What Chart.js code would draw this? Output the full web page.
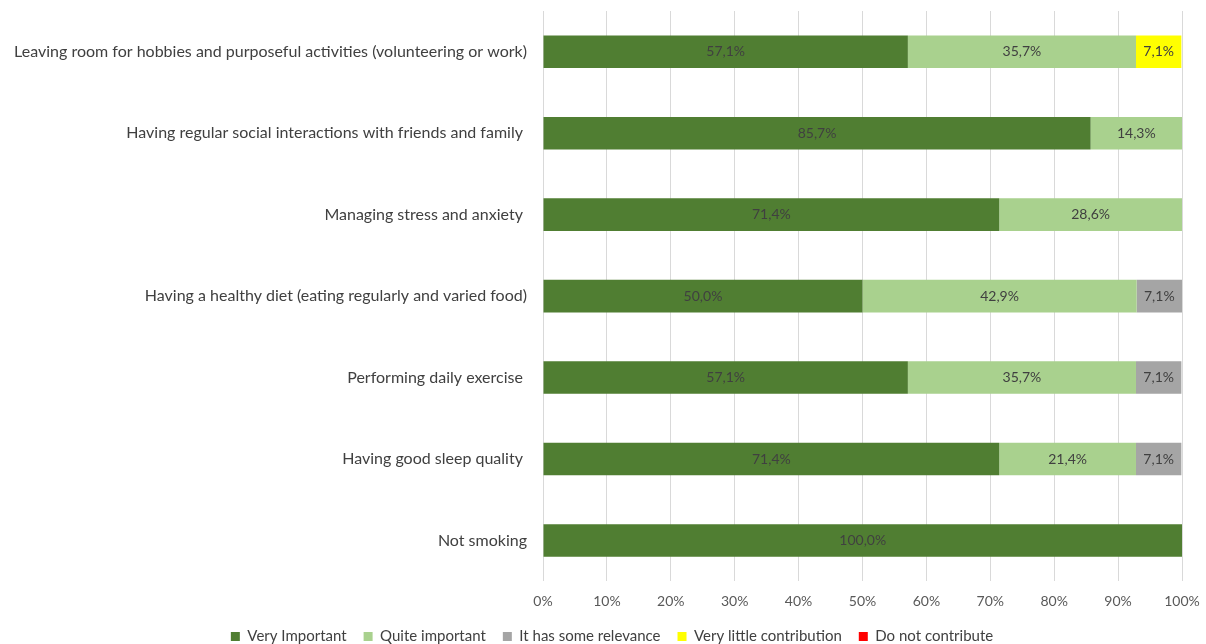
<!DOCTYPE html>
<html>
<head>
<meta charset="utf-8">
<script src="https://cdn.jsdelivr.net/npm/chart.js@4/dist/chart.umd.min.js"></script>
<style>
  html, body { margin: 0; padding: 0; background: #fff; }
  #wrap { width: 1206px; height: 644px; }
</style>
</head>
<body>
<div id="wrap"><canvas id="myChart"></canvas></div>
<script>
var categories = [
    'Leaving room for hobbies and purposeful activities (volunteering or work)',
    'Having regular social interactions with friends and family ',
    'Managing stress and anxiety ',
    'Having a healthy diet (eating regularly and varied food)',
    'Performing daily exercise ',
    'Having good sleep quality ',
    'Not smoking'
];
var veryImportant   = [57.1, 85.7, 71.4, 50.0, 57.1, 71.4, 100.0];
var quiteImportant  = [35.7, 14.3, 28.6, 42.9, 35.7, 21.4, 0];
var someRelevance   = [0, 0, 0, 7.1, 7.1, 7.1, 0];
var veryLittle      = [7.1, 0, 0, 0, 0, 0, 0];
var doNotContribute = [0, 0, 0, 0, 0, 0, 0];
var xTicks = [0, 10, 20, 30, 40, 50, 60, 70, 80, 90, 100];

var FONT = 'Lato, "Open Sans", sans-serif';

// writes the value in the middle of each segment, e.g. "57,1%"
var segmentLabels = {
    id: 'segmentLabels',
    afterDatasetsDraw: function(chart) {
        var ctx = chart.ctx;
        ctx.save();
        ctx.font = '14px ' + FONT;
        ctx.fillStyle = '#404040';
        ctx.textAlign = 'center';
        ctx.textBaseline = 'middle';
        chart.data.datasets.forEach(function(ds, i) {
            var meta = chart.getDatasetMeta(i);
            meta.data.forEach(function(bar, j) {
                var v = ds.data[j];
                if (!v) return;
                var cx = (bar.x + bar.base) / 2;
                ctx.fillText(v.toFixed(1).replace('.', ',') + '%', cx, bar.y);
            });
        });
        ctx.restore();
    }
};

// nudge the legend row a bit to the right
var legendShift = {
    id: 'legendShift',
    afterLayout: function(chart) {
        if (chart.legend) {
            chart.legend.left += 19;
            chart.legend.right += 19;
        }
    }
};

function series(label, data, color) {
    return {
        label: label,
        data: data,
        backgroundColor: color,
        borderWidth: 0,
        barPercentage: 0.4,
        categoryPercentage: 1.0
    };
}

var ctx = document.getElementById('myChart');
var myChart = new Chart(ctx, {
    type: 'bar',
    data: {
        labels: categories,
        datasets: [
            series('Very Important', veryImportant, '#507E32'),
            series('Quite important', quiteImportant, '#A9D18E'),
            series('It has some relevance', someRelevance, '#A5A5A5'),
            series('Very little contribution', veryLittle, '#FFFF00'),
            series('Do not contribute', doNotContribute, '#FF0000')
        ]
    },
    options: {
        indexAxis: 'y',
        responsive: true,
        maintainAspectRatio: false,
        animation: false,
        layout: { padding: { left: 4, right: 24, top: 11, bottom: -10 } },
        plugins: {
            legend: {
                position: 'bottom',
                labels: {
                    boxWidth: 9,
                    boxHeight: 9,
                    padding: 17,
                    color: '#404040',
                    font: { family: FONT, size: 15 }
                }
            },
            tooltip: { enabled: false }
        },
        scales: {
            x: {
                stacked: true,
                min: 0,
                max: 100,
                afterBuildTicks: function(scale) {
                    scale.ticks = xTicks.map(function(v) { return { value: v }; });
                },
                afterFit: function(scale) {
                    // tick labels may run into the legend's empty top padding
                    scale.height -= 10;
                    scale.paddingLeft = 0;
                    scale.paddingRight = 0;
                },
                ticks: {
                    color: '#595959',
                    font: { family: FONT, size: 14 },
                    padding: 12,
                    callback: function(v) { return v + '%'; }
                },
                grid: {
                    color: '#D9D9D9',
                    drawTicks: false
                },
                border: { display: false }
            },
            y: {
                stacked: true,
                afterFit: function(scale) {
                    scale.width = 539;
                    // labels sit in the middle of each band, no extra room needed
                    scale.paddingTop = 0;
                    scale.paddingBottom = 0;
                },
                ticks: {
                    color: '#404040',
                    font: { family: FONT, size: 16 },
                    padding: 16
                },
                grid: { display: false, drawTicks: false },
                border: { display: false }
            }
        }
    },
    plugins: [segmentLabels, legendShift]
});
</script>
</body>
</html>
